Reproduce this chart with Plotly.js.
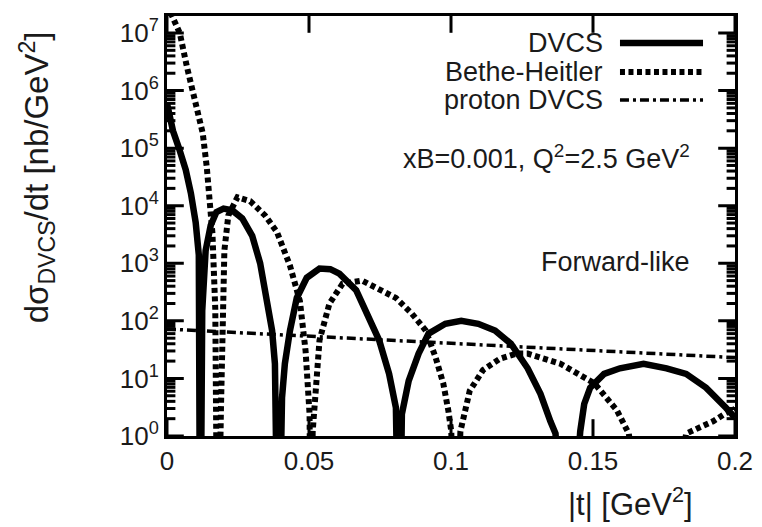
<!DOCTYPE html>
<html>
<head>
<meta charset="utf-8">
<script src="https://cdn.plot.ly/plotly-3.0.1.min.js"></script>
<style>html,body{margin:0;padding:0;background:#fff;}#chart{width:762px;height:527px;}</style>
</head>
<body>
<div id="chart"></div>
<script>
// |t| values [GeV^2] and cross sections [nb/GeV^2]
var dvcsT = [0, 0.0021, 0.0042, 0.0066, 0.0084, 0.0101, 0.0112, 0.0117,
  0.0124, 0.0136, 0.0154, 0.0174, 0.0199, 0.023, 0.0265, 0.030, 0.0328, 0.0352, 0.037, 0.038, 0.0387, 0.0392,
  0.0405, 0.0415, 0.0433, 0.0457, 0.0492, 0.0537, 0.0575, 0.0607, 0.0666, 0.0712, 0.0747, 0.0782, 0.0806, 0.0818,
  0.0827, 0.0851, 0.0886, 0.0921, 0.098, 0.1036, 0.1096, 0.1155, 0.1211, 0.127, 0.1315, 0.135, 0.1368, 0.141,
  0.1455, 0.1469, 0.149, 0.1539, 0.1595, 0.1678, 0.1759, 0.1828, 0.1898, 0.1968, 0.2];
var dvcsV = [6.0e5, 2.0e5, 1.0e5, 4.2e4, 1.66e4, 5.1e3, 1.4e3, 0.001,
  150, 1660, 4570, 7760, 8900, 8300, 6000, 3000, 1000, 250, 68, 18, 2.4, 0.001,
  4.6, 18, 68, 250, 560, 810, 790, 660, 340, 115, 46, 12, 3.1, 0.001,
  2.4, 9.1, 27, 60, 89, 100, 89, 68, 40, 15, 5.4, 1.8, 1.1, 0.001,
  1.2, 3.6, 6.9, 12, 15, 18, 15, 12, 6.9, 3.1, 2.1];

var bhT = [0, 0.0024, 0.0045, 0.0070, 0.0098, 0.0126, 0.0140, 0.0150, 0.0160, 0.0170, 0.0178,
  0.0190, 0.0195, 0.0202, 0.0216, 0.0248, 0.0293, 0.0345, 0.0387, 0.0433, 0.0468, 0.0488, 0.0502, 0.0507,
  0.0513, 0.0537, 0.0572, 0.0618, 0.0687, 0.0747, 0.0806, 0.0862, 0.0911, 0.0946, 0.0973, 0.0991, 0.1001, 0.1018,
  0.1033, 0.1066, 0.1113, 0.1173, 0.1230, 0.127, 0.1385, 0.1504, 0.1584, 0.1626, 0.172,
  0.1828, 0.1874, 0.1923, 0.1968, 0.2];
var bhV = [3.1e7, 1.7e7, 1.0e7, 2.6e6, 6.9e5, 1.8e5, 4.7e4, 1.2e4, 3.3e3, 160, 0.001,
  3, 220, 1660, 6800, 1.4e4, 1.2e4, 6800, 3500, 910, 220, 30, 2.4, 0.001,
  1.2, 46, 200, 440, 500, 360, 250, 134, 68, 23, 8.1, 2.7, 1.2, 0.001,
  1.2, 6.1, 14, 22, 27, 27, 18, 8.3, 2.8, 1.1, 0.001,
  1.1, 1.4, 1.8, 2.5, 2.95];

var protonT = [0, 0.05, 0.1, 0.15, 0.2];
var protonV = [72, 54, 41, 31, 23];

var seriesNames = ['DVCS', 'Bethe-Heitler', 'proton DVCS'];
var yTickVals = [1, 10, 100, 1000, 1e4, 1e5, 1e6, 1e7];
var yTickText = ['10<sup>0</sup>', '10<sup>1</sup>', '10<sup>2</sup>', '10<sup>3</sup>',
                 '10<sup>4</sup>', '10<sup>5</sup>', '10<sup>6</sup>', '10<sup>7</sup>'];
var xTickVals = [0, 0.05, 0.1, 0.15, 0.2];
var xTickText = ['0', '0.05', '0.1', '0.15', '0.2'];

var X_RANGE = [0, 0.2];
var Y_LOG_RANGE = [0, 7.295];
var MAJOR_LEN = 12, MINOR_LEN = 6;   // inward tick lengths in px

// minor tick values 2..9 in every decade
var yMinorVals = [];
for (var d = 0; d < yTickVals.length; d++) {
  for (var m = 2; m <= 9; m++) {
    var mv = m * yTickVals[d];
    if (Math.log10(mv) < Y_LOG_RANGE[1]) yMinorVals.push(mv);
  }
}
function fill(n, v) { var a = []; for (var j = 0; j < n; j++) a.push(v); return a; }
var yBottom = Math.pow(10, Y_LOG_RANGE[0]), yTop = Math.pow(10, Y_LOG_RANGE[1]);

// tick marks: line-shaped markers centred on the frame; the plot-area clip keeps only the inner half
function tickTrace(xs, ys, symbol, len) {
  return {x: xs, y: ys, mode: 'markers', hoverinfo: 'skip', showlegend: false, cliponaxis: true,
    marker: {symbol: symbol, size: 2 * len, color: '#000', line: {color: '#000', width: 3}}};
}
var tickTraces = [
  tickTrace(fill(yTickVals.length, X_RANGE[0]), yTickVals, 'line-ew-open', MAJOR_LEN),
  tickTrace(fill(yTickVals.length, X_RANGE[1]), yTickVals, 'line-ew-open', MAJOR_LEN),
  tickTrace(fill(yMinorVals.length, X_RANGE[0]), yMinorVals, 'line-ew-open', MINOR_LEN),
  tickTrace(fill(yMinorVals.length, X_RANGE[1]), yMinorVals, 'line-ew-open', MINOR_LEN),
  tickTrace(xTickVals, fill(xTickVals.length, yBottom), 'line-ns-open', MAJOR_LEN),
  tickTrace(xTickVals, fill(xTickVals.length, yTop), 'line-ns-open', MAJOR_LEN)
];

var FONT = 'Liberation Sans, Arial, Helvetica, sans-serif';
var INK = '#1a1a1a';
var styles = [
  {color: '#000', width: 6.5, dash: 'solid'},
  {color: '#000', width: 6, dash: '5px,3.5px'},
  {color: '#000', width: 3.5, dash: '9px,4px,3px,4px'}
];

var traces = tickTraces.concat([
  {x: dvcsT, y: dvcsV, name: seriesNames[0], mode: 'lines', line: styles[0]},
  {x: bhT, y: bhV, name: seriesNames[1], mode: 'lines', line: styles[1]},
  {x: protonT, y: protonV, name: seriesNames[2], mode: 'lines', line: styles[2]}
]);

// custom legend (text right-aligned, line sample to its right)
var legY = [0.9357, 0.8667, 0.80];
var annotations = [];
var shapes = [];
for (var i = 0; i < seriesNames.length; i++) {
  annotations.push({xref: 'paper', yref: 'paper', x: 0.771, y: legY[i], xanchor: 'right', yanchor: 'middle',
    text: seriesNames[i], showarrow: false, font: {family: FONT, size: 27, color: INK}});
  shapes.push({type: 'line', xref: 'paper', yref: 'paper', x0: 0.7975, x1: 0.9437, y0: legY[i], y1: legY[i],
    line: {color: styles[i].color, width: styles[i].width, dash: styles[i].dash}});
}
annotations.push({xref: 'paper', yref: 'paper', x: 0.9243, y: 0.664, xanchor: 'right', yanchor: 'middle',
  text: 'xB=0.001, Q<sup>2</sup>=2.5 GeV<sup>2</sup>', showarrow: false, font: {family: FONT, size: 27, color: INK}});
annotations.push({xref: 'paper', yref: 'paper', x: 0.9243, y: 0.4143, xanchor: 'right', yanchor: 'middle',
  text: 'Forward-like', showarrow: false, font: {family: FONT, size: 27, color: INK}});
annotations.push({xref: 'paper', yref: 'paper', x: -0.228, y: 0.617, xanchor: 'center', yanchor: 'middle',
  textangle: -90, text: 'dσ<sub>DVCS</sub>/dt [nb/GeV<sup>2</sup>]', showarrow: false,
  font: {family: FONT, size: 33, color: INK}});
annotations.push({xref: 'paper', yref: 'paper', x: 0.9296, y: -0.158, xanchor: 'right', yanchor: 'middle',
  text: '|t| [GeV<sup>2</sup>]', showarrow: false, font: {family: FONT, size: 31, color: INK}});

var layout = {
  width: 762, height: 527,
  margin: {l: 167, r: 27, t: 16, b: 91},
  paper_bgcolor: '#fff', plot_bgcolor: '#fff',
  showlegend: false,
  font: {family: FONT, size: 26, color: INK},
  xaxis: {
    range: X_RANGE, showgrid: false, zeroline: false,
    showline: true, linecolor: '#000', linewidth: 3, mirror: true,
    ticks: '', tickmode: 'array', tickvals: xTickVals, ticktext: xTickText,
    tickfont: {family: FONT, size: 26, color: INK}
  },
  yaxis: {
    type: 'log', range: Y_LOG_RANGE, showgrid: false, zeroline: false,
    showline: true, linecolor: '#000', linewidth: 3, mirror: true,
    ticks: '', tickmode: 'array', tickvals: yTickVals, ticktext: yTickText,
    tickfont: {family: FONT, size: 26, color: INK}
  },
  annotations: annotations,
  shapes: shapes
};

Plotly.newPlot('chart', traces, layout, {staticPlot: true, displayModeBar: false});
</script>
</body>
</html>
